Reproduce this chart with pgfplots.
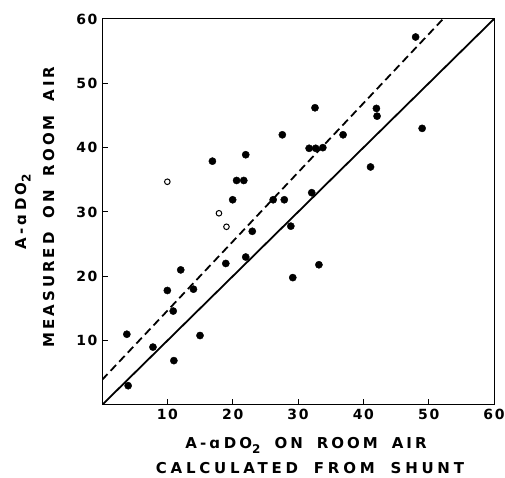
\documentclass[border=0pt]{standalone}
\usepackage{pgfplots}
\pgfplotsset{compat=1.18}
\usepackage{fontspec}
\setmainfont{DejaVu Sans}
\newfontfamily\labf{DejaVu Sans}[LetterSpace=20]
\newfontfamily\labw{DejaVu Sans}[LetterSpace=25]
\newfontfamily\tickf{DejaVu Sans}[LetterSpace=12]
\newcommand{\subtwo}{\raisebox{-4.5bp}{\fontsize{12bp}{12bp}\selectfont 2}}
\begin{document}
\begin{tikzpicture}[x=1bp,y=1bp]
\useasboundingbox (0,0) rectangle (505,478);
\begin{axis}[
  at={(102bp,73bp)}, anchor=south west,
  scale only axis, width=392bp, height=386bp,
  xmin=0, xmax=60, ymin=0, ymax=60,
  xtick={10,20,30,40,50,60}, ytick={10,20,30,40,50,60},
  tick align=inside, tick pos=left, major tick length=6bp,
  axis line style={line width=1bp}, tick style={line width=1bp, black},
  /pgf/number format/assume math mode=true,
  ticklabel style={font=\tickf\bfseries\fontsize{14bp}{16bp}\selectfont},
  xticklabel style={yshift=-1bp},
  yticklabel style={xshift=-1bp},
]
\addplot[black, line width=1.8bp, no marks] coordinates {(0,0) (60,60)};
\addplot[black, line width=1.8bp, dash pattern=on 8bp off 4.5bp, no marks] coordinates {(0,3.9) (52.2,60)};
\addplot[only marks, mark=*, mark size=3.6bp, black] coordinates {
(3.8,11.0) (4.0,3.0) (7.8,9.0) (10.0,17.8) (10.9,14.6) (11.0,6.9)
(12.05,21.0) (14.0,18.0) (15.0,10.8) (16.9,37.9) (18.95,22.0) (20.0,31.9)
(20.6,34.9) (21.7,34.9) (22.0,38.9) (22.0,23.0) (23.0,27.0) (26.2,31.9)
(27.6,42.0) (27.9,31.9) (28.9,27.8) (29.2,19.8) (31.7,39.9) (32.1,33.0)
(32.6,46.2) (32.7,39.9) (33.8,40.0) (33.2,21.8) (36.9,42.0) (41.1,37.0)
(42.0,46.1) (42.1,44.9) (48.0,57.2) (49.0,43.0)
};
\addplot[only marks, mark=o, mark size=2.8bp, black, mark options={line width=1bp}] coordinates {
(10.0,34.7) (17.9,29.8) (19.05,27.7)
};
\end{axis}
\node[anchor=base, inner sep=0pt, font=\labf\bfseries\fontsize{15bp}{18bp}\selectfont] at (306,29) {A-ɑ\hspace{4bp}DO\subtwo\hspace{14bp}ON\hspace{14bp}ROOM\hspace{14bp}AIR};
\node[anchor=base, inner sep=0pt, font=\labw\bfseries\fontsize{15bp}{18bp}\selectfont] at (310,4) {CALCULATED\hspace{16bp}FROM\hspace{16bp}SHUNT};
\node[anchor=base, inner sep=0pt, rotate=90, font=\labf\bfseries\fontsize{15bp}{18bp}\selectfont] at (26,266) {A-ɑ\hspace{4bp}DO\subtwo};
\node[anchor=base, inner sep=0pt, rotate=90, font=\labf\bfseries\fontsize{15bp}{18bp}\selectfont] at (54,271) {MEASURED\hspace{14bp}ON\hspace{14bp}ROOM\hspace{14bp}AIR};
\end{tikzpicture}
\end{document}
